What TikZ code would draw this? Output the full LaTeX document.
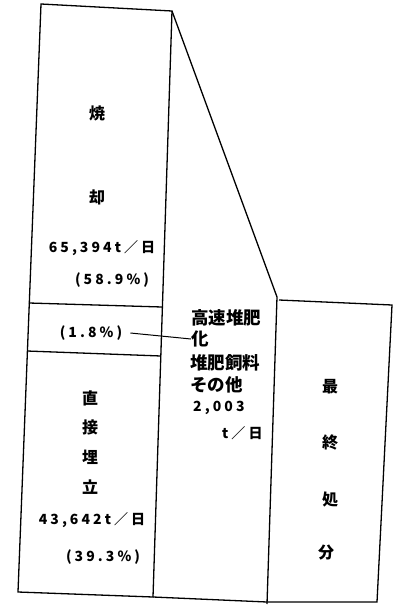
\documentclass[tikz,border=0pt]{standalone}
\usepackage{fontspec}
\newfontfamily\jp{Noto Sans CJK JP}
\newfontfamily\jpnum{Noto Sans CJK JP}[LetterSpace=22]
\begin{document}
\begin{tikzpicture}[x=1pt,y=-1pt]
\tikzset{
  frame/.style={line width=1.3pt, line join=miter},
  big/.style={inner sep=0pt, font=\jp\bfseries\fontsize{16}{18}\selectfont},
  num/.style={inner sep=0pt, font=\jpnum\bfseries\fontsize{14}{16}\selectfont},
  midtxt/.style={inner sep=0pt, anchor=west, font=\jp\bfseries\fontsize{17.5}{19}\selectfont},
  link/.style={line width=1pt}
}
\useasboundingbox (0,0) rectangle (394,605);
% left column
\draw[frame] (41,4) -- (172,11) -- (153,597) -- (18,592) -- cycle;
\draw[frame] (29,303) -- (162,307);
\draw[frame] (27,351) -- (161,356);
% middle column
\draw[frame] (172,11) -- (277,297) -- (267,604);
\draw[frame] (153,597) -- (267,602);
% right column
\draw[frame] (279,300) -- (392,305) -- (377,602) -- (267,602);

% incineration
\node[big] (yaki) at (97,113) {焼};
\node[big] (kyaku) at (97,197) {却};
\node[num] (inc) at (102,248) {65,394t／日};
\node[num] (incp) at (112,280) {(58.9\%)};
% compost share
\node[num] (cp) at (91,333) {(1.8\%)};
% direct landfill
\node[big] (choku) at (90,398) {直};
\node[big] (setsu) at (90,427) {接};
\node[big] (mai) at (90,457) {埋};
\node[big] (ritsu) at (90,487) {立};
\node[num] (dl) at (92,520) {43,642t／日};
\node[num] (dlp) at (103,557) {(39.3\%)};
% middle text
\node[midtxt] (m1) at (191,318) {高速堆肥};
\node[midtxt] (m2) at (191,339) {化};
\node[midtxt] (m3) at (190,363) {堆肥飼料};
\node[midtxt] (m4) at (190,385) {その他};
\node[num, anchor=west] (m5) at (193,408) {2,003};
\node[num, anchor=west] (m6) at (222,433) {t／日};
% final disposal
\node[big] (sai) at (330,387) {最};
\node[big] (shu) at (330,443) {終};
\node[big] (sho) at (330,500) {処};
\node[big] (bun) at (326,553) {分};
% connector
\draw[link] (cp.east) ++(8,0) coordinate (cpe) -- (m2.west);
\end{tikzpicture}
\end{document}
